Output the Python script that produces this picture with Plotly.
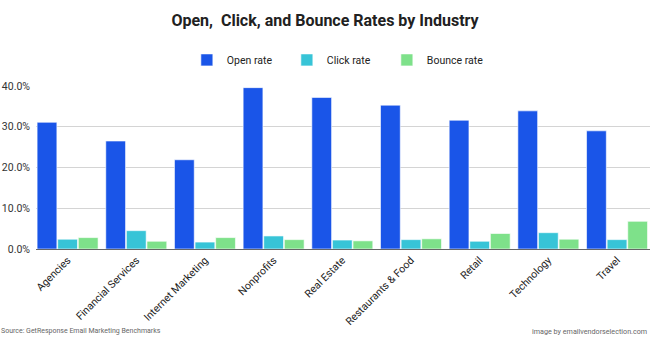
import plotly.graph_objects as go

categories = ["Agencies", "Financial Services", "Internet Marketing", "Nonprofits",
              "Real Estate", "Restaurants & Food", "Retail", "Technology", "Travel"]
open_rate = [0.311, 0.265, 0.219, 0.396, 0.372, 0.353, 0.316, 0.339, 0.290]
click_rate = [0.024, 0.045, 0.017, 0.032, 0.022, 0.023, 0.019, 0.040, 0.023]
bounce_rate = [0.028, 0.019, 0.028, 0.023, 0.020, 0.025, 0.038, 0.024, 0.068]

series = [("Open rate", open_rate, "#1a55e8"),
          ("Click rate", click_rate, "#37c4d7"),
          ("Bounce rate", bounce_rate, "#7ee18a")]

fig = go.Figure()
for name, vals, col in series:
    fig.add_trace(go.Bar(x=categories, y=vals, name=name,
                         marker=dict(color=col, line=dict(color="rgba(255,255,255,0.6)", width=1))))

fig.update_layout(
    width=650, height=337,
    margin=dict(l=36, r=0, t=86, b=88),
    paper_bgcolor="white", plot_bgcolor="white",
    barmode="group", bargap=0.1, bargroupgap=0.04,
    font=dict(family="Roboto", color="#222"),
    title=dict(text="<b>Open,  Click, and Bounce Rates by Industry</b>",
               x=0.5, xanchor="center", y=0.94, yanchor="middle",
               font=dict(size=16, color="#212121")),
    legend=dict(orientation="h", x=0.49, xanchor="center", y=1.16, yanchor="middle",
                font=dict(size=10.5, color="#222"), itemwidth=30,
                entrywidth=55, entrywidthmode="pixels",
                traceorder="normal"),
    showlegend=True,
)
fig.update_yaxes(range=[0, 0.4], tickformat=".1%", dtick=0.1,
                 gridcolor="#d4d4d4", gridwidth=1, zeroline=False,
                 showline=False, tickfont=dict(size=10.5, color="#333"),
                 ticks="", ticklen=0, ticklabelstandoff=5)
fig.update_xaxes(range=[-0.46, 8.48], tickangle=-45, tickfont=dict(size=10.5, color="#222"),
                 showline=True, linecolor="#666", linewidth=1, ticks="")

fig.add_annotation(text="Source: GetResponse Email Marketing Benchmarks",
                   xref="paper", yref="paper", x=-36/614, y=-82/163, xanchor="left",
                   yanchor="middle", showarrow=False, font=dict(size=7, color="#666"),
                   xshift=-1)
fig.add_annotation(text="image by emailvendorselection.com",
                   xref="paper", yref="paper", x=1.0, y=-82/163, xanchor="right",
                   yanchor="middle", showarrow=False, font=dict(size=7.2, color="#666"),
                   xshift=-1)

fig.write_html("out.html")
